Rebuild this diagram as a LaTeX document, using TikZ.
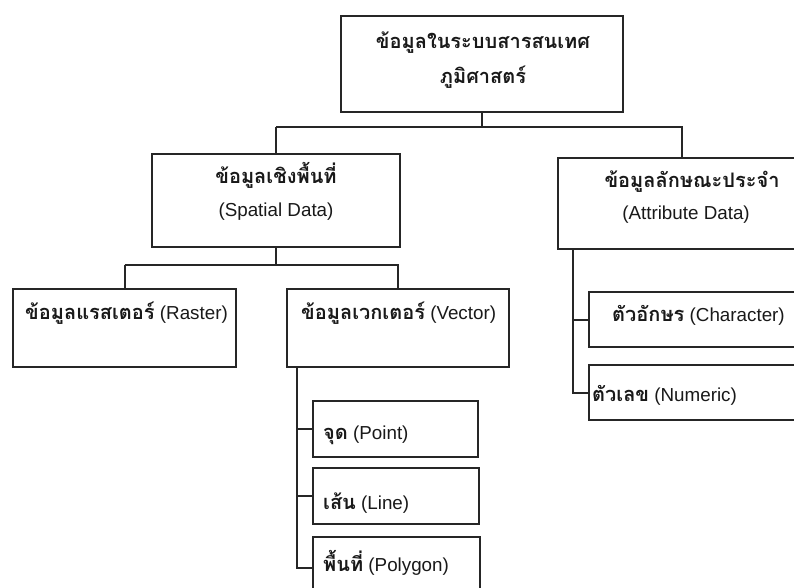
\documentclass[tikz,border=0pt]{standalone}
\usepackage{fontspec}
\setmainfont{Liberation Sans}
\newfontfamily\thaifont[Script=Thai]{Loma}
\newcommand{\thb}[1]{{\thaifont\bfseries\fontsize{20}{24}\selectfont #1}}
\begin{document}
\begin{tikzpicture}[x=1pt,y=-1pt,
  box/.style={draw=black!85,line width=2pt,rectangle,inner sep=0pt,outer sep=0pt,anchor=north west},
  conn/.style={draw=black!85,line width=2pt},
  txt/.style={inner sep=0pt,font=\fontsize{18.8}{22}\selectfont,text=black!90}]
\clip (0,0) rectangle (794,587);
\fill[white] (0,0) rectangle (794,587);
% boxes
\node[box,minimum width=282pt,minimum height=96pt] (top) at (341,16) {};
\node[box,minimum width=248pt,minimum height=93pt] (spatial) at (152,154) {};
\node[box,minimum width=248pt,minimum height=91pt] (attr) at (558,158) {};
\node[box,minimum width=223pt,minimum height=78pt] (raster) at (13,289) {};
\node[box,minimum width=222pt,minimum height=78pt] (vector) at (287,289) {};
\node[box,minimum width=165pt,minimum height=56pt] (point) at (313,401) {};
\node[box,minimum width=166pt,minimum height=56pt] (line) at (313,468) {};
\node[box,minimum width=167pt,minimum height=62pt] (poly) at (313,537) {};
\node[box,minimum width=230pt,minimum height=55pt] (char) at (589,292) {};
\node[box,minimum width=230pt,minimum height=55pt] (num) at (589,365) {};
% texts
\node[txt] (t1) at (483,43) {\thb{ข้อมูลในระบบสารสนเทศ}};
\node[txt] (t2) at (483,77) {\thb{ภูมิศาสตร์}};
\node[txt] (s1) at (276,175) {\thb{ข้อมูลเชิงพื้นที่}};
\node[txt] (s2) at (276,212) {(Spatial Data)};
\node[txt] (a1) at (692,182) {\thb{ข้อมูลลักษณะประจำ}};
\node[txt] (a2) at (686,215) {(Attribute Data)};
\node[txt,anchor=west] (r1) at (25,313) {\thb{ข้อมูลแรสเตอร์} (Raster)};
\node[txt,anchor=west] (v1) at (301,313) {\thb{ข้อมูลเวกเตอร์} (Vector)};
\node[txt,anchor=west] (p1) at (323,435) {\thb{จุด} (Point)};
\node[txt,anchor=west] (l1) at (323,503) {\thb{เส้น} (Line)};
\node[txt,anchor=west] (g1) at (323,563) {\thb{พื้นที่} (Polygon)};
\node[txt,anchor=west] (c1) at (612,315) {\thb{ตัวอักษร} (Character)};
\node[txt,anchor=west] (n1) at (592,395) {\thb{ตัวเลข} (Numeric)};
% connectors
\coordinate (bar1) at (0,127);
\coordinate (bar2) at (0,265);
\draw[conn] (top.south) -- (top.south |- bar1);
\draw[conn] (spatial.north |- bar1) -- (spatial.north);
\draw[conn] (spatial.north |- bar1) -| (attr.north);
\draw[conn] (spatial.south) -- (spatial.south |- bar2);
\draw[conn] (raster.north |- bar2) -- (raster.north);
\draw[conn] (raster.north |- bar2) -| (vector.north);
\coordinate (vs) at ([xshift=10pt]vector.south west);
\draw[conn] (vs) |- (poly.west);
\draw[conn] (vs |- point.west) -- (point.west);
\draw[conn] (vs |- line.west) -- (line.west);
\coordinate (as) at ([xshift=15pt]attr.south west);
\draw[conn] (as) |- (num.west);
\draw[conn] (as |- char.west) -- (char.west);
\end{tikzpicture}
\end{document}
